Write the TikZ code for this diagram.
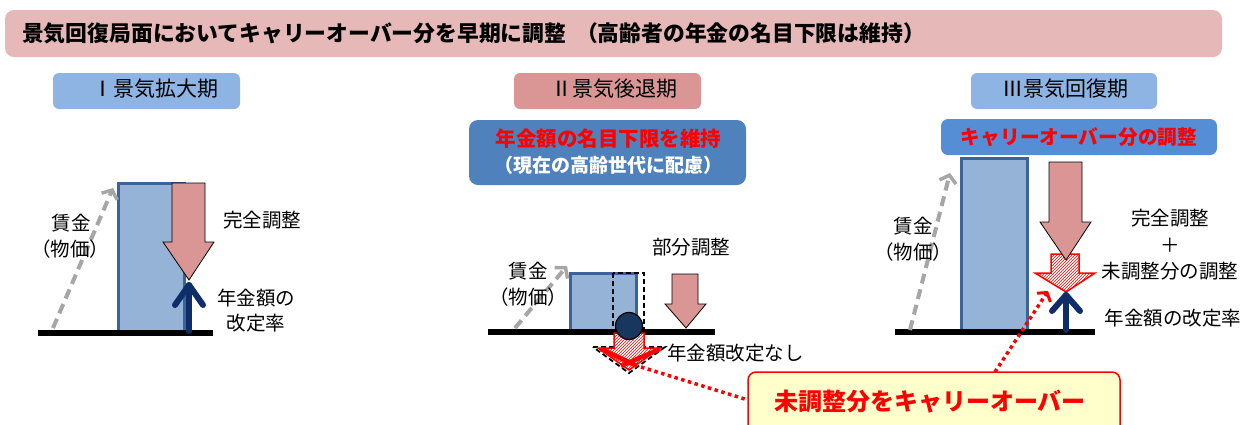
\documentclass[tikz,border=0pt]{standalone}
\usepackage{fontspec}
\setmainfont{Noto Sans CJK JP}
\usetikzlibrary{arrows.meta,patterns}
\definecolor{titlepink}{HTML}{E6B9B8}
\definecolor{hdrblue}{HTML}{8EB4E3}
\definecolor{hdrpink}{HTML}{D99694}
\definecolor{boxblueA}{HTML}{4F81BD}
\definecolor{boxblueB}{HTML}{558ED5}
\definecolor{barfill}{HTML}{95B3D7}
\definecolor{bardraw}{HTML}{3A6398}
\definecolor{arrowpink}{HTML}{D99694}
\definecolor{navy}{HTML}{0F2D69}
\definecolor{circnavy}{HTML}{17375E}
\definecolor{dashgray}{HTML}{A6A6A6}
\definecolor{notered}{HTML}{FF0000}
\definecolor{noteyellow}{HTML}{FFFFCC}
\tikzset{
  hdrbox/.style={rounded corners=6pt, inner sep=0pt, draw=none},
  hdrtext/.style={font=\fontsize{21}{25}\selectfont, inner sep=0pt},
  lbl/.style={font=\fontsize{19.5}{23}\selectfont, inner sep=0pt, align=center},
  bar/.style={fill=barfill, draw=bardraw, line width=3pt},
  base/.style={line width=6pt, black},
  pinkarrow/.style={fill=arrowpink, draw=black, line width=0.8pt, line join=miter},
  navyarrow/.style={navy, line width=6pt, line cap=round, line join=round},
  graydash/.style={dashgray, line width=4pt, dash pattern=on 10pt off 6pt,
    -{Straight Barb[length=7pt,width=17pt,line width=3.5pt]}},
  hatched/.style={preaction={fill=white}, pattern=north east lines, pattern color=notered,
    draw=notered, line width=1.5pt},
  reddots/.style={notered, line width=3.5pt, dash pattern=on 3.5pt off 3.5pt},
}
\begin{document}
\begin{tikzpicture}[x=1pt,y=-1pt]
\useasboundingbox (0,0) rectangle (1253,424);
% title
\node[hdrbox, fill=titlepink, rounded corners=9pt, minimum width=1217pt, minimum height=47pt] (titlebar) at (613.5,33.5) {};
\node[anchor=west, inner sep=0pt, font=\fontsize{21.8}{26}\selectfont\bfseries] (titletext) at (22,33.5)
  {景気回復局面においてキャリーオーバー分を早期に調整\hspace{0.45em}（高齢者の年金の名目下限は維持）};
% headers
\node[hdrbox, fill=hdrblue, minimum width=187pt, minimum height=36pt] (h1) at (146.5,91) {};
\node[hdrtext] (h1t) at (155,89) {Ⅰ景気拡大期};
\node[hdrbox, fill=hdrpink, minimum width=187pt, minimum height=36pt] (h2) at (607.5,91) {};
\node[hdrtext] (h2t) at (614.5,89) {Ⅱ景気後退期};
\node[hdrbox, fill=hdrblue, minimum width=186pt, minimum height=36pt] (h3) at (1064,91) {};
\node[hdrtext] (h3t) at (1065.5,89) {Ⅲ景気回復期};
% blue boxes
\node[hdrbox, fill=boxblueA, rounded corners=9pt, minimum width=277pt, minimum height=65pt] (b2) at (607.5,152.5) {};
\node[inner sep=0pt, font=\fontsize{20.5}{24}\selectfont\bfseries, text=notered] (b2a) at (608.5,139) {年金額の名目下限を維持};
\node[inner sep=0pt, font=\fontsize{19}{23}\selectfont\bfseries, text=white] (b2b) at (608.5,165) {（現在の高齢世代に配慮）};
\node[hdrbox, fill=boxblueB, rounded corners=7pt, minimum width=276pt, minimum height=36pt] (b3) at (1079,137) {};
\node[inner sep=0pt, font=\fontsize{19.7}{24}\selectfont\bfseries, text=notered] (b3t) at (1079,137) {キャリーオーバー分の調整};

% ===== Panel I =====
\draw[bar] (118,183) rectangle (184,331);
\draw[pinkarrow] (172,183) -- (205,183) -- (205,242) -- (214,242) -- (189,280) -- (163,242) -- (172,242) -- cycle;
\draw[base] (38,333) -- (213,333);
\draw[navyarrow] (189,331) -- (189,285);
\draw[navyarrow] (175,305) -- (189,285) -- (203,305);
\draw[graydash] (53,328) -- (113,188);
\node[lbl] (w1) at (71,223) {賃金};
\node[lbl] (p1) at (70,249) {（物価）};
\node[lbl] (c1) at (262,220) {完全調整};
\node[lbl] (r1) at (256,298) {年金額の};
\node[lbl] (r1b) at (256,323) {改定率};

% ===== Panel II =====
\draw[bar] (570,273) rectangle (636,331);
\draw[black, line width=1.5pt, dash pattern=on 5pt off 3pt] (613,273) rectangle (644,331);
\draw[pinkarrow] (672,274) -- (698,274) -- (698,304) -- (706,304) -- (686,328) -- (665,304) -- (672,304) -- cycle;
\draw[base] (488,332) -- (715,332);
\draw[black, line width=1.8pt, dash pattern=on 5pt off 3pt] (593,347) -- (665,347) -- (629,373) -- cycle;
\draw[hatched] (614,333) -- (644,333) -- (644,348) -- (660,348) -- (629,370) -- (598,348) -- (614,348) -- cycle;
\draw[notered, line width=4.5pt] (601,349) -- (637,366);
\draw[notered, line width=4.5pt] (660,349) -- (621,366);
\draw[black, fill=circnavy, line width=1.2pt] (629,326) circle (13.5pt);
\coordinate (c2) at (629,326);
\draw[graydash] (515,328) -- (567,266);
\node[lbl] (w2) at (528,271) {賃金};
\node[lbl] (p2) at (528,297) {（物価）};
\node[lbl] (c2t) at (691,247) {部分調整};
\node[lbl, anchor=west] (n2) at (667,353) {年金額改定なし};

% ===== Panel III =====
\draw[bar] (961,158) rectangle (1027,331);
\draw[hatched] (1051,254) -- (1079,254) -- (1079,273) -- (1095,273) -- (1066,292) -- (1035,273) -- (1051,273) -- cycle;
\draw[pinkarrow] (1049,162) -- (1082,162) -- (1082,222) -- (1091,222) -- (1066,260) -- (1040,222) -- (1049,222) -- cycle;
\draw[base] (895,332) -- (1095,332);
\draw[navyarrow] (1066,330) -- (1066,295);
\draw[navyarrow] (1052,311) -- (1066,295) -- (1080,311);
\draw[graydash] (910,330) -- (950,173);
\node[lbl] (w3) at (913,226) {賃金};
\node[lbl] (p3) at (913,252) {（物価）};
\node[lbl] (c3) at (1170,218) {完全調整};
\node[lbl] (plus3) at (1170,245) {＋};
\node[lbl] (u3) at (1170,271) {未調整分の調整};
\node[lbl] (r3) at (1173,318) {年金額の改定率};

% ===== bottom note =====
\draw[notered, fill=noteyellow, line width=1.5pt, rounded corners=8pt] (748,372) rectangle (1120,450);
\coordinate (notewest) at (748,400);
\coordinate (notetop) at (995,372);
\node[inner sep=0pt, font=\fontsize{24}{28}\selectfont\bfseries, text=notered] (note) at (930,402) {未調整分をキャリーオーバー};
\coordinate (midsrc) at (641,367);
\coordinate (h3tip) at (1048,291);
\draw[reddots] (midsrc) -- (notewest);
\draw[reddots, -{Straight Barb[length=6pt,width=16pt,line width=3pt]}] (notetop) -- (h3tip);
\end{tikzpicture}
\end{document}
